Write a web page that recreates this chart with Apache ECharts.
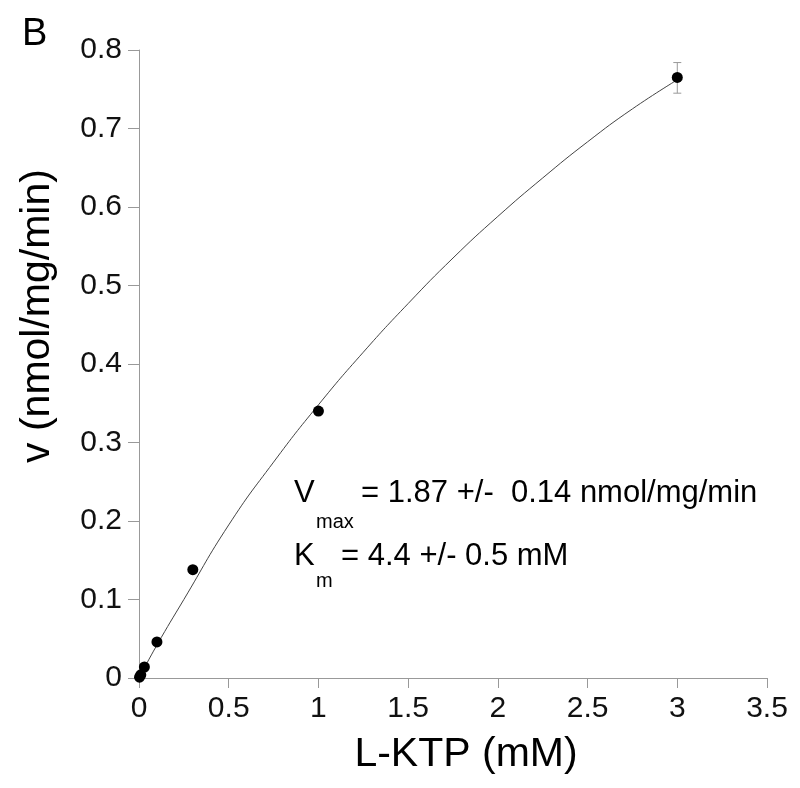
<!DOCTYPE html>
<html>
<head>
<meta charset="utf-8">
<script src="https://cdn.jsdelivr.net/npm/echarts@6/dist/echarts.min.js"></script>
<style>
html,body{margin:0;padding:0;background:#fff;}
#c{width:800px;height:788px;}
</style>
</head>
<body>
<div id="c"></div>
<script>
// Measured data points: substrate concentration (mM) and velocity (nmol/mg/min)
const substrate = [0.003, 0.01, 0.03, 0.1, 0.3, 1, 3];
const velocity = [0.001, 0.004, 0.014, 0.046, 0.138, 0.340, 0.765];
// Error bars (only visible at the last point)
const errLow = [null, null, null, null, null, null, 0.745];
const errHigh = [null, null, null, null, null, null, 0.784];
// Fitted curve
const fitX = [0, 0.1, 0.25, 0.5, 0.75, 1, 1.25, 1.5, 1.75, 2, 2.25, 2.5, 2.75, 3];
const fitY = [0, 0.042, 0.100, 0.195, 0.275, 0.348, 0.415, 0.477, 0.535, 0.588, 0.637, 0.683, 0.725, 0.762];
// Axis ticks
const xTicks = [0, 0.5, 1, 1.5, 2, 2.5, 3, 3.5];
const yTicks = [0, 0.1, 0.2, 0.3, 0.4, 0.5, 0.6, 0.7, 0.8];

const FONT = '"Liberation Sans", Arial, sans-serif';
const chart = echarts.init(document.getElementById('c'), null, {renderer: 'canvas'});

const pts = substrate.map((s, i) => [s, velocity[i]]);
const fit = fitX.map((x, i) => [x, fitY[i]]);
const errs = [];
substrate.forEach((s, i) => { if (errLow[i] != null) errs.push([s, errLow[i], errHigh[i]]); });

chart.setOption({
  animation: false,
  backgroundColor: '#fff',
  grid: {left: 139, right: 33, top: 50, bottom: 110, containLabel: false},
  xAxis: {
    type: 'value', min: xTicks[0], max: xTicks[xTicks.length - 1], interval: 0.5,
    axisLine: {show: true, lineStyle: {color: '#999', width: 1}},
    axisTick: {show: true, length: 10, lineStyle: {color: '#999'}},
    splitLine: {show: false},
    axisLabel: {fontFamily: FONT, fontSize: 30, color: '#111', margin: 16}
  },
  yAxis: {
    type: 'value', min: yTicks[0], max: yTicks[yTicks.length - 1], interval: 0.1,
    axisLine: {show: true, lineStyle: {color: '#999', width: 1}},
    axisTick: {show: true, length: 11, lineStyle: {color: '#999'}},
    splitLine: {show: false},
    axisLabel: {fontFamily: FONT, fontSize: 30, color: '#111', margin: 17}
  },
  series: [
    {
      type: 'line', data: fit, smooth: true, showSymbol: false, symbol: 'none',
      lineStyle: {color: '#444', width: 1}, z: 2
    },
    {
      type: 'custom', data: errs, z: 3,
      renderItem: function (params, api) {
        const x = api.value(0);
        const lo = api.coord([x, api.value(1)]);
        const hi = api.coord([x, api.value(2)]);
        const w = 4;
        const st = {stroke: '#999', lineWidth: 1};
        return {type: 'group', children: [
          {type: 'line', shape: {x1: lo[0], y1: lo[1], x2: hi[0], y2: hi[1]}, style: st},
          {type: 'line', shape: {x1: lo[0] - w, y1: lo[1], x2: lo[0] + w, y2: lo[1]}, style: st},
          {type: 'line', shape: {x1: hi[0] - w, y1: hi[1], x2: hi[0] + w, y2: hi[1]}, style: st}
        ]};
      }
    },
    {
      type: 'scatter', data: pts, symbol: 'circle', symbolSize: 11, clip: false,
      itemStyle: {color: '#000', opacity: 1}, z: 4
    }
  ],
  graphic: [
    {type: 'text', left: 22, top: 16, style: {text: 'B', font: '38px ' + FONT, fill: '#000'}},
    {type: 'text', x: 466, y: 775, style: {text: 'L-KTP (mM)', font: '41px ' + FONT, fill: '#000', textAlign: 'center', textVerticalAlign: 'bottom'}},
    {type: 'text', x: 38, y: 316, rotation: Math.PI / 2, style: {text: 'v (nmol/mg/min)', font: '41px ' + FONT, fill: '#000', textAlign: 'center', textVerticalAlign: 'middle'}},
    {type: 'text', x: 294, y: 509, style: {text: 'V', font: '31px ' + FONT, fill: '#000', textVerticalAlign: 'bottom'}},
    {type: 'text', x: 316, y: 532, style: {text: 'max', font: '20px ' + FONT, fill: '#000', textVerticalAlign: 'bottom'}},
    {type: 'text', x: 361, y: 509, style: {text: '= 1.87 +/-  0.14 nmol/mg/min', font: '31px ' + FONT, fill: '#000', textVerticalAlign: 'bottom'}},
    {type: 'text', x: 294, y: 572, style: {text: 'K', font: '31px ' + FONT, fill: '#000', textVerticalAlign: 'bottom'}},
    {type: 'text', x: 316, y: 591, style: {text: 'm', font: '20px ' + FONT, fill: '#000', textVerticalAlign: 'bottom'}},
    {type: 'text', x: 341, y: 572, style: {text: '= 4.4 +/- 0.5 mM', font: '31px ' + FONT, fill: '#000', textVerticalAlign: 'bottom'}}
  ]
});
</script>
</body>
</html>
